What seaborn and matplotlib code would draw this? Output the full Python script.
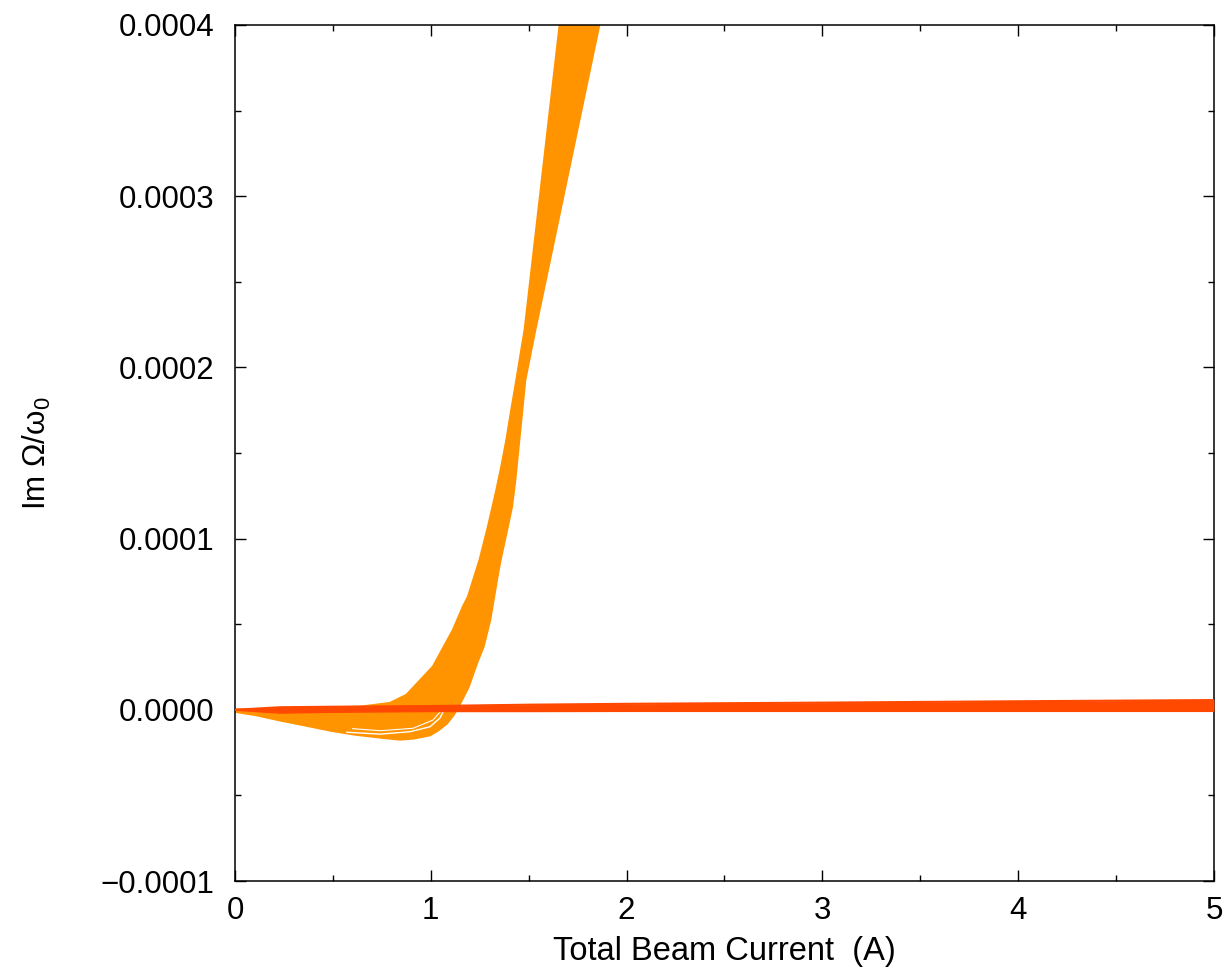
import numpy as np
import pandas as pd
import matplotlib
matplotlib.use("Agg")
import matplotlib.pyplot as plt
import seaborn as sns
from matplotlib.ticker import MultipleLocator, FuncFormatter

# ---------------- data ----------------
# orange band: upper-left envelope
band_upper_x = [0.0, 0.25, 0.5, 0.64, 0.792, 0.877, 1.013, 1.115, 1.166, 1.192, 1.251,
                1.294, 1.337, 1.362, 1.388, 1.413, 1.439, 1.464, 1.481, 1.66]
band_upper_y = [0.0, 0.05e-5, 0.12e-5, 0.16e-5, 0.38e-5, 0.86e-5, 2.52e-5, 4.66e-5,
                6.02e-5, 6.61e-5, 8.75e-5, 10.7e-5, 12.84e-5, 14.2e-5, 15.76e-5,
                17.51e-5, 19.26e-5, 21.01e-5, 22.18e-5, 40.0e-5]
# orange band: lower-right envelope
band_lower_x = [0.0, 0.009, 0.111, 0.23, 0.357, 0.485, 0.613, 0.741, 0.843, 0.911,
                0.996, 1.038, 1.081, 1.115, 1.149, 1.192, 1.234, 1.268, 1.302, 1.345,
                1.362, 1.388, 1.413, 1.430, 1.447, 1.464, 1.481, 1.498, 1.532, 1.859]
band_lower_y = [0.0, -0.11e-5, -0.30e-5, -0.60e-5, -0.89e-5, -1.19e-5, -1.43e-5,
                -1.60e-5, -1.72e-5, -1.66e-5, -1.47e-5, -1.18e-5, -0.79e-5, -0.30e-5,
                0.38e-5, 1.35e-5, 2.72e-5, 3.69e-5, 5.26e-5, 8.17e-5, 9.14e-5, 10.5e-5,
                11.86e-5, 13.42e-5, 15.37e-5, 17.32e-5, 19.26e-5, 20.24e-5, 22.18e-5,
                40.0e-5]
# thin gaps inside the orange band
gap1_x = [0.57, 0.741, 0.894, 0.996, 1.047, 1.073]
gap1_y = [-1.31e-5, -1.42e-5, -1.28e-5, -0.99e-5, -0.48e-5, 0.11e-5]
gap2_x = [0.6, 0.741, 0.909, 1.011, 1.057]
gap2_y = [-1.10e-5, -1.22e-5, -1.08e-5, -0.60e-5, -0.01e-5]
# red band near zero
flat_x = [0.0, 0.23, 0.5, 1.0, 1.5, 2.0, 3.0, 4.0, 5.0]
flat_upper_y = [0.0, 0.15e-5, 0.18e-5, 0.22e-5, 0.30e-5, 0.35e-5, 0.42e-5, 0.50e-5, 0.57e-5]
flat_lower_y = [0.0, -0.17e-5, -0.12e-5, -0.08e-5, -0.08e-5, -0.07e-5, -0.07e-5, -0.07e-5, -0.07e-5]

x_ticks = [0, 1, 2, 3, 4, 5]
y_ticks = [-0.0001, 0.0, 0.0001, 0.0002, 0.0003, 0.0004]

ORANGE = "#FF9300"
RED = "#FF4800"

# ---------------- style ----------------
sns.set_style("ticks")
plt.rcParams["font.family"] = ["Liberation Sans", "DejaVu Sans"]
plt.rcParams["mathtext.fontset"] = "custom"
plt.rcParams["mathtext.rm"] = "Liberation Sans"
plt.rcParams["mathtext.it"] = "Liberation Sans"
for k in ["text.color", "axes.labelcolor", "xtick.color", "ytick.color", "axes.edgecolor"]:
    plt.rcParams[k] = "black"

fig = plt.figure(figsize=(12.25, 9.72), dpi=100)
ax = fig.add_axes([0.1918, 0.0936, 0.7992, 0.8807])

# orange band
ax.fill(np.concatenate([band_upper_x, band_lower_x[::-1]]),
        np.concatenate([band_upper_y, band_lower_y[::-1]]),
        color=ORANGE, lw=0, zorder=2)
up = pd.DataFrame({"x": band_upper_x, "y": band_upper_y})
lo = pd.DataFrame({"x": band_lower_x, "y": band_lower_y})
sns.lineplot(data=up, x="x", y="y", sort=False, color=ORANGE, lw=2, ax=ax, zorder=2)
sns.lineplot(data=lo, x="x", y="y", sort=False, color=ORANGE, lw=2, ax=ax, zorder=2)
g1 = pd.DataFrame({"x": gap1_x, "y": gap1_y})
g2 = pd.DataFrame({"x": gap2_x, "y": gap2_y})
sns.lineplot(data=g1, x="x", y="y", sort=False, color="white", lw=1.0, ax=ax, zorder=3)
sns.lineplot(data=g2, x="x", y="y", sort=False, color="white", lw=0.8, ax=ax, zorder=3)

# red band
ax.fill_between(flat_x, flat_lower_y, flat_upper_y, color=RED, lw=0, zorder=4)
fu = pd.DataFrame({"x": flat_x, "y": flat_upper_y})
fl = pd.DataFrame({"x": flat_x, "y": flat_lower_y})
sns.lineplot(data=fu, x="x", y="y", sort=False, color=RED, lw=1.5, ax=ax, zorder=4)
sns.lineplot(data=fl, x="x", y="y", sort=False, color=RED, lw=1.5, ax=ax, zorder=4)

# axes
ax.set_xlim(0, 5)
ax.set_ylim(-0.0001, 0.0004)
ax.set_xticks(x_ticks)
ax.set_yticks(y_ticks)
ax.xaxis.set_minor_locator(MultipleLocator(0.5))
ax.yaxis.set_minor_locator(MultipleLocator(0.00005))
ax.xaxis.set_major_formatter(FuncFormatter(lambda v, _: f"{v:.0f}"))


def yfmt(v, _):
    if abs(v) < 1e-12:
        return "0.0000"
    return f"{v:.4f}".replace("-", "\u2212")


ax.yaxis.set_major_formatter(FuncFormatter(yfmt))
ax.tick_params(which="both", direction="in", top=True, right=True, width=1.0, color="black")
ax.tick_params(which="major", length=8)
ax.tick_params(which="minor", length=4.5)
ax.tick_params(axis="y", which="major", labelsize=22.5, pad=15)
ax.tick_params(axis="x", which="major", labelsize=22.5, pad=11)
for s in ax.spines.values():
    s.set_linewidth(1.1)
    s.set_color("black")

ax.set_xlabel("Total Beam Current  (A)", fontsize=23.5, labelpad=7)
ax.set_ylabel("Im Ω/ω$_{0}$", fontsize=22.5, labelpad=34)

fig.savefig("out.png", dpi=100)
